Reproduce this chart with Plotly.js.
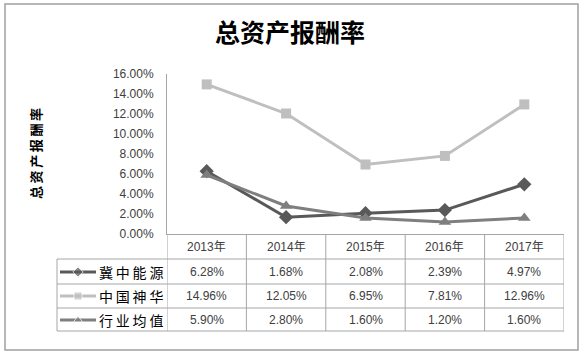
<!DOCTYPE html>
<html>
<head>
<meta charset="utf-8">
<script src="https://cdn.plot.ly/plotly-3.0.1.min.js"></script>
<style>html,body{margin:0;padding:0;background:#fff;}#chart{width:586px;height:356px;}</style>
</head>
<body>
<div id="chart"></div>
<script>
// ---- data ----
const categories = ['2013年', '2014年', '2015年', '2016年', '2017年'];
const seriesNames = ['冀中能源', '中国神华', '行业均值'];
const jizhong = [6.28, 1.68, 2.08, 2.39, 4.97];
const shenhua = [14.96, 12.05, 6.95, 7.81, 12.96];
const industry = [5.90, 2.80, 1.60, 1.20, 1.60];
const yTicks = [0, 2, 4, 6, 8, 10, 12, 14, 16];
const yTickLabels = ['0.00%', '2.00%', '4.00%', '6.00%', '8.00%', '10.00%', '12.00%', '14.00%', '16.00%'];
const chartTitle = '总资产报酬率';
const yTitle = '总资产报酬率';

// ---- styles ----
const W = 586, H = 356;
const px = v => v / W;
const py = v => 1 - v / H;
const colors = ['#595959', '#BFBFBF', '#7F7F7F'];
const symbols = ['diamond', 'square', 'triangle-up'];
const allSeries = [jizhong, shenhua, industry];
const font = 'Liberation Sans, Noto Sans CJK SC, sans-serif';
const cjk = 'Noto Sans CJK SC, sans-serif';
const gridCol = '#A6A6A6';
const textCol = '#404040';

const plotL = 167, plotR = 564, plotT = 74, plotB = 234;
const rowLines = [259, 284, 308, 331];
const rowCenters = [272, 296, 320];
const headerCenter = 247;
const legendL = 57;

const traces = allSeries.map((vals, i) => ({
  type: 'scatter', mode: 'lines+markers', name: seriesNames[i],
  x: categories, y: vals,
  line: {color: colors[i], width: 3},
  marker: {symbol: symbols[i], size: i === 1 ? 10 : 11, color: colors[i]},
  xaxis: 'x', yaxis: 'y', showlegend: false, hoverinfo: 'skip'
}));

// legend keys in table (overlay pixel axes)
allSeries.forEach((vals, i) => {
  const yy = rowCenters[i];
  traces.push({
    type: 'scatter', mode: 'lines+markers',
    x: [60, 78, 96], y: [yy, yy, yy],
    line: {color: colors[i], width: 3},
    marker: {symbol: symbols[i], size: [0, 8, 0], color: colors[i]},
    xaxis: 'x2', yaxis: 'y2', showlegend: false, hoverinfo: 'skip'
  });
});

const shapes = [];
shapes.push({type: 'rect', xref: 'paper', yref: 'paper', x0: px(5), x1: px(578), y0: py(350), y1: py(4), line: {color: '#A0A0A0', width: 1.5}});
for (let k = 0; k <= categories.length; k++) {
  shapes.push({type: 'line', xref: 'x', yref: 'paper', x0: k - 0.5, x1: k - 0.5, y0: py(plotB), y1: py(rowLines[3]), line: {color: gridCol, width: 1}});
}
shapes.push({type: 'line', xref: 'paper', yref: 'paper', x0: px(legendL), x1: px(legendL), y0: py(rowLines[0]), y1: py(rowLines[3]), line: {color: gridCol, width: 1}});
rowLines.forEach(r => {
  shapes.push({type: 'line', xref: 'paper', yref: 'paper', x0: px(legendL), x1: px(plotR), y0: py(r), y1: py(r), line: {color: gridCol, width: 1}});
});

const annotations = [];
categories.forEach((c, j) => {
  annotations.push({xref: 'x', yref: 'paper', x: j, y: py(headerCenter), text: c, showarrow: false, font: {family: font, size: 12, color: textCol}, xanchor: 'center', yanchor: 'middle'});
  allSeries.forEach((vals, i) => {
    annotations.push({xref: 'x', yref: 'paper', x: j, y: py(rowCenters[i]), text: vals[j].toFixed(2) + '%', showarrow: false, font: {family: font, size: 12, color: textCol}, xanchor: 'center', yanchor: 'middle'});
  });
});
seriesNames.forEach((n, i) => {
  annotations.push({xref: 'paper', yref: 'paper', x: px(131), y: py(rowCenters[i]), text: n.split('').join('\u2009'), showarrow: false, font: {family: cjk, size: 14, color: '#000'}, xanchor: 'center', yanchor: 'middle'});
});
annotations.push({xref: 'paper', yref: 'paper', x: px(35), y: py(154), text: '<b>' + yTitle.split('').join('\u2009') + '</b>', textangle: -90, showarrow: false, font: {family: cjk, size: 13, color: '#000'}, xanchor: 'center', yanchor: 'middle'});

const layout = {
  width: W, height: H,
  margin: {l: 0, r: 0, t: 0, b: 0},
  paper_bgcolor: '#fff', plot_bgcolor: 'rgba(0,0,0,0)',
  title: {text: '<b>' + chartTitle + '</b>', x: px(290), y: py(33), xref: 'paper', yref: 'paper', xanchor: 'center', yanchor: 'middle', font: {family: cjk, size: 25, color: '#000'}},
  xaxis: {domain: [px(plotL), px(plotR)], type: 'category', range: [-0.5, categories.length - 0.5], showticklabels: false, ticks: '', showgrid: false, zeroline: false, showline: true, linecolor: gridCol, linewidth: 1, fixedrange: true},
  yaxis: {domain: [py(plotB), py(plotT)], range: [0, 16], tickmode: 'array', tickvals: yTicks, ticktext: yTickLabels, ticks: '', ticklabelstandoff: 10, showgrid: false, zeroline: false, showline: true, linecolor: gridCol, linewidth: 1, tickfont: {family: font, size: 12, color: textCol}, fixedrange: true},
  xaxis2: {domain: [0, 1], range: [0, W], visible: false, fixedrange: true, anchor: 'y2'},
  yaxis2: {domain: [0, 1], range: [H, 0], visible: false, fixedrange: true, anchor: 'x2'},
  shapes: shapes,
  annotations: annotations,
  showlegend: false
};

Plotly.newPlot('chart', traces, layout, {staticPlot: true, displayModeBar: false});
</script>
</body>
</html>
